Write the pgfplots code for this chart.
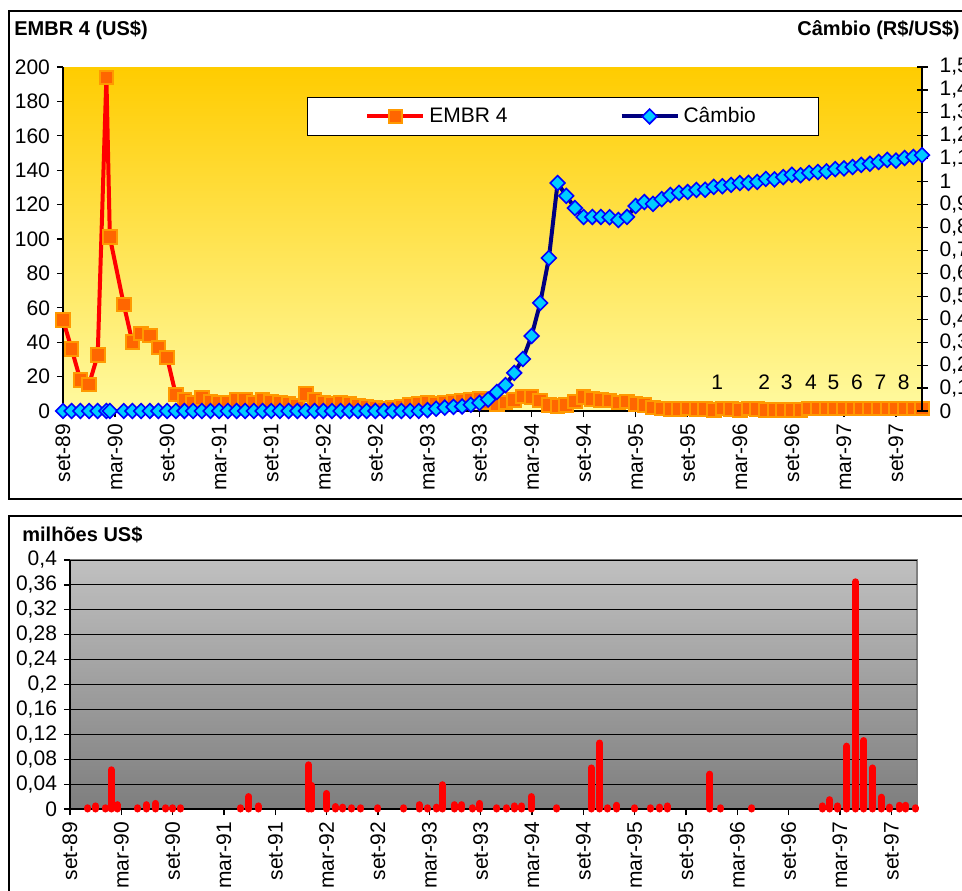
\documentclass[border=0pt]{standalone}
\usepackage{fontspec}
\setmainfont{Liberation Sans}
\usepackage{pgfplots}
\usepackage{pgfplotstable}
\pgfplotsset{compat=1.18}

\definecolor{embrline}{RGB}{255,0,0}
\definecolor{embrfill}{RGB}{255,102,0}
\definecolor{embrdraw}{RGB}{255,153,0}
\definecolor{cambline}{RGB}{0,0,128}
\definecolor{cambfill}{RGB}{0,204,255}
\definecolor{cambdraw}{RGB}{0,0,255}
\definecolor{bgtop}{RGB}{255,204,0}
\definecolor{bgbot}{RGB}{255,250,160}
\definecolor{gtop}{RGB}{192,192,192}
\definecolor{gbot}{RGB}{126,126,126}

\newcommand{\tickfont}{\fontsize{10.5}{12}\selectfont}
\newcommand{\titlefont}{\bfseries\fontsize{10}{12}\selectfont}

\pgfplotstableread{
t v
0 53
1 36
2 18
3 15.5
4 32.5
5 194
5.4 101
7 62
8 40
9 45
10 44
11 37
12 31
13 9.5
14 6.5
15 5
16 7.5
17 5.5
18 4.5
19 5
20 6.5
21 6.5
22 5
23 6.5
24 5.5
25 4.5
26 4
27 3
28 10
29 6.5
30 5
31 4
32 4.5
33 4
34 3
35 2.5
36 2
37 1.5
38 2
39 2.5
40 3.5
41 4
42 4.5
43 4
44 5
45 5.5
46 6
47 6.5
48 7
49 5
50 4
51 5
52 6.5
53 8.5
54 8
55 6
56 3.5
57 3
58 3.5
59 5.5
60 8
61 7
62 6.5
63 6
64 5
65 5.5
66 4
67 3.5
68 2
69 1.5
70 1
71 1
72 1.5
73 1
74 1
75 0.5
76 1.5
77 1
78 0.5
79 1.5
80 1
81 0.5
82 0.5
83 0.5
84 0.5
85 0.5
86 1.5
87 1.5
88 1.5
89 1.5
90 1.5
91 1.5
92 1.5
93 1.5
94 1.5
95 1.5
96 1.5
97 1.5
98 1.5
99 1.5
}\embr

\pgfplotstableread{
t v
0 0
1 0
2 0
3 0
4 0
5 0
5.4 0
7 0
8 0
9 0
10 0
11 0
12 0
13 0
14 0
15 0
16 0
17 0
18 0
19 0
20 0
21 0
22 0
23 0
24 0
25 0
26 0
27 0
28 0
29 0
30 0
31 0
32 0
33 0
34 0
35 0
36 0
37 0
38 0
39 0
40 0
41 0
42 0.004
43 0.01
44 0.015
45 0.018
46 0.02
47 0.027
48 0.035
49 0.05
50 0.083
51 0.113
52 0.166
53 0.227
54 0.327
55 0.471
56 0.667
57 0.994
58 0.938
59 0.885
60 0.846
61 0.846
62 0.846
63 0.845
64 0.833
65 0.846
66 0.894
67 0.911
68 0.903
69 0.924
70 0.942
71 0.951
72 0.955
73 0.964
74 0.965
75 0.977
76 0.98
77 0.986
78 0.994
79 0.995
80 0.999
81 1.012
82 1.01
83 1.02
84 1.03
85 1.028
86 1.038
87 1.042
88 1.045
89 1.055
90 1.058
91 1.064
92 1.073
93 1.078
94 1.086
95 1.095
96 1.092
97 1.103
98 1.108
99 1.116
}\camb

\pgfplotstableread{
t v
2.1 0.002
3.0 0.005
4.1 0.002
4.8 0.063
5.5 0.007
7.9 0.002
8.9 0.007
10.0 0.009
11.2 0.002
12.0 0.002
12.9 0.002
19.9 0.002
20.9 0.02
22.0 0.005
27.9 0.071
28.2 0.038
30.0 0.025
31.0 0.004
31.9 0.003
32.9 0.002
34.0 0.002
36.0 0.002
39.0 0.002
40.8 0.007
41.8 0.002
42.8 0.003
43.5 0.039
44.9 0.007
45.8 0.007
47.0 0.002
47.9 0.009
49.9 0.002
51.0 0.002
51.9 0.005
52.8 0.005
53.9 0.02
56.9 0.002
60.9 0.066
61.9 0.106
62.8 0.002
63.9 0.006
66.0 0.002
67.8 0.002
68.9 0.003
69.8 0.005
74.8 0.056
76.0 0.002
79.7 0.002
87.9 0.005
88.8 0.015
89.7 0.005
90.8 0.101
91.8 0.365
92.8 0.11
93.8 0.066
94.8 0.019
95.8 0.003
96.9 0.006
97.7 0.006
98.8 0.002
}\vol

\begin{document}
\begin{tikzpicture}
% frames
\draw[line width=1pt] (4.5pt,195.5pt) rectangle (495pt,439.5pt);
\draw[line width=1pt] (4.5pt,-10pt) rectangle (495pt,187pt);

% titles
\node[anchor=west, font=\titlefont, inner sep=0pt] at (7pt,430pt) {EMBR 4 (US\$)};
\node[anchor=west, font=\titlefont, inner sep=0pt] at (398.5pt,430pt) {Câmbio (R\$/US\$)};
\node[anchor=west, font=\titlefont, inner sep=0pt] at (11pt,177.5pt) {milhões US\$};

% top chart, left axis
\begin{axis}[
  at={(31.5pt,239.5pt)}, anchor=south west,
  scale only axis, width=429.5pt, height=172pt,
  xmin=0, xmax=99, ymin=0, ymax=200,
  clip=false,
  axis x line*=bottom, axis y line*=left,
  axis line style={black, line width=0.6pt, -},
  xtick={0,6,...,96},
  xticklabels={set-89,mar-90,set-90,mar-91,set-91,mar-92,set-92,mar-93,set-93,mar-94,set-94,mar-95,set-95,mar-96,set-96,mar-97,set-97},
  x tick label style={rotate=90, anchor=east, font=\tickfont},
  ytick={0,20,...,200},
  yticklabels={0,20,40,60,80,100,120,140,160,180,200},
  y tick label style={font=\tickfont},
  tick align=outside,
  major tick length=3pt,
  tick style={black, line width=0.6pt},
  axis background/.style={shade, top color=bgtop, bottom color=bgbot},
  /pgf/number format/assume math mode=true,
]
\addplot[embrline, line width=2pt, mark=square*, mark size=3.4pt,
  mark options={fill=embrfill, draw=embrdraw, line width=1pt, solid}]
  table[x=t, y=v] {\embr};
\node[font=\tickfont] at (axis cs:75.4,16.9) {1};
\node[font=\tickfont] at (axis cs:80.8,16.9) {2};
\node[font=\tickfont] at (axis cs:83.4,16.9) {3};
\node[font=\tickfont] at (axis cs:86.2,16.9) {4};
\node[font=\tickfont] at (axis cs:88.8,16.9) {5};
\node[font=\tickfont] at (axis cs:91.5,16.9) {6};
\node[font=\tickfont] at (axis cs:94.2,16.9) {7};
\node[font=\tickfont] at (axis cs:96.9,16.9) {8};
\end{axis}

% top chart, right axis
\begin{axis}[
  at={(31.5pt,239.5pt)}, anchor=south west,
  scale only axis, width=429.5pt, height=172pt,
  xmin=0, xmax=99, ymin=0, ymax=1.5,
  clip=false,
  axis x line=none, axis y line*=right,
  axis line style={black, line width=0.6pt, -},
  ytick={0,0.1,0.2,0.3,0.4,0.5,0.6,0.7,0.8,0.9,1,1.1,1.2,1.3,1.4,1.5},
  yticklabels={0,{0,1},{0,2},{0,3},{0,4},{0,5},{0,6},{0,7},{0,8},{0,9},1,{1,1},{1,2},{1,3},{1,4},{1,5}},
  y tick label style={font=\tickfont, xshift=2.5pt},
  tick align=center,
  major tick length=5.5pt,
  tick style={black, line width=0.6pt},
  legend style={at={(0.284,0.913)}, anchor=north west, draw=black, fill=white,
    font=\tickfont, legend columns=2, inner xsep=29pt, inner ysep=3pt,
    /tikz/every even column/.append style={column sep=54pt}},
  legend image code/.code={\draw[mark repeat=2,mark phase=2,#1] plot coordinates {(0pt,0pt)(14pt,0pt)(28pt,0pt)};},
]
\addlegendimage{embrline, line width=2pt, mark=square*, mark size=3.4pt,
  mark options={fill=embrfill, draw=embrdraw, line width=1pt, solid}}
\addlegendentry{EMBR 4}
\addplot[cambline, line width=2pt, mark=square*, mark size=2.6pt,
  mark options={rotate=45, fill=cambfill, draw=cambdraw, line width=0.8pt, solid}]
  table[x=t, y=v] {\camb};
\addlegendentry{Câmbio}
\end{axis}

% bottom chart
\begin{axis}[
  at={(35pt,40.5pt)}, anchor=south west,
  scale only axis, width=423.5pt, height=124.5pt,
  xmin=0, xmax=99, ymin=0, ymax=0.4,
  clip=false,
  axis x line*=bottom, axis y line*=left,
  axis line style={black, line width=0.6pt, -},
  xtick={0,6,...,96},
  xticklabels={set-89,mar-90,set-90,mar-91,set-91,mar-92,set-92,mar-93,set-93,mar-94,set-94,mar-95,set-95,mar-96,set-96,mar-97,set-97},
  x tick label style={rotate=90, anchor=east, font=\tickfont},
  ytick={0,0.04,0.08,0.12,0.16,0.2,0.24,0.28,0.32,0.36,0.4},
  yticklabels={0,{0,04},{0,08},{0,12},{0,16},{0,2},{0,24},{0,28},{0,32},{0,36},{0,4}},
  y tick label style={font=\tickfont},
  ymajorgrids,
  grid style={black, line width=0.5pt},
  tick align=outside,
  major tick length=3pt,
  tick style={black, line width=0.6pt},
  axis background/.style={shade, top color=gtop, bottom color=gbot, draw=gray, line width=1pt},
]
\addplot[ycomb, color=red, line width=3.5pt, line cap=round] table[x=t, y=v] {\vol};
\end{axis}

\pgfresetboundingbox
\useasboundingbox (0pt,0pt) rectangle (481pt,445pt);
\end{tikzpicture}
\end{document}
